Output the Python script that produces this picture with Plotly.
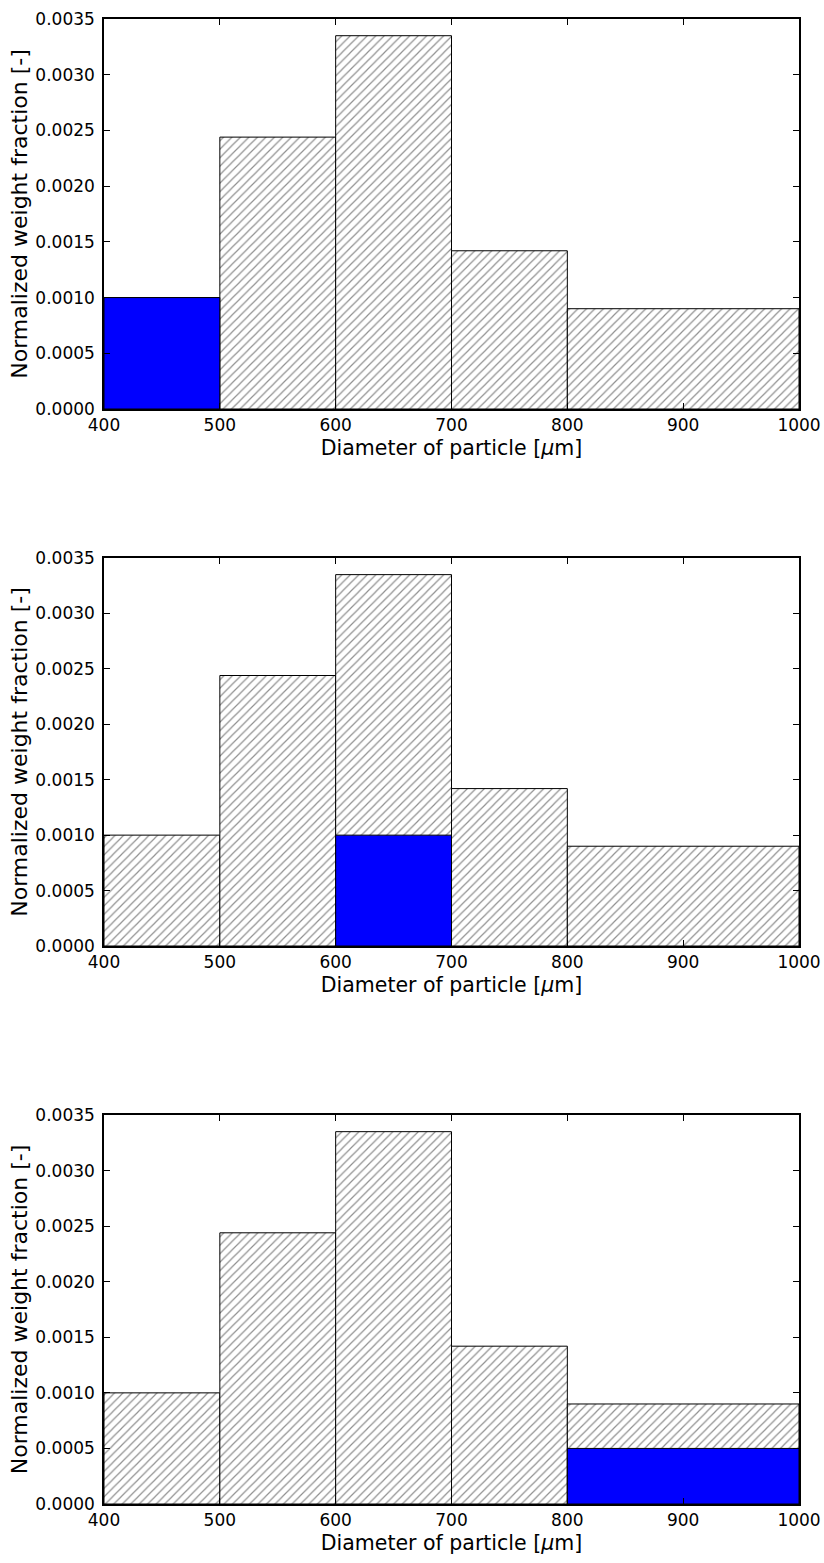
import plotly.graph_objects as go

# Particle size bins (µm) and normalized weight fraction per bin
bin_edges = [400, 500, 600, 700, 800, 1000]
weight_fraction = [0.0010, 0.00244, 0.00335, 0.00142, 0.0009]

# Highlighted bin in each panel and the height of the highlighted part
highlight_bin = [0, 2, 4]
highlight_value = [0.0010, 0.0010, 0.0005]

W, H = 824, 1563
x_dom = [104 / W, 799 / W]
panel_px = [(19, 409), (558, 946), (1115, 1504)]

centers = [(a + b) / 2 for a, b in zip(bin_edges[:-1], bin_edges[1:])]
widths = [b - a for a, b in zip(bin_edges[:-1], bin_edges[1:])]

fig = go.Figure()
layout = dict(
    width=W, height=H, margin=dict(l=0, r=0, t=0, b=0, autoexpand=False),
    plot_bgcolor="white", paper_bgcolor="white",
    barmode="overlay", showlegend=False,
    font=dict(family="DejaVu Sans", color="black"),
)

for i, (top, bottom) in enumerate(panel_px):
    n = "" if i == 0 else str(i + 1)
    xa, ya = "x" + n, "y" + n
    fig.add_trace(go.Bar(
        x=centers, y=weight_fraction, width=widths, xaxis=xa, yaxis=ya,
        marker=dict(color="white", line=dict(color="black", width=1),
                    pattern=dict(shape="/", size=6, solidity=0.2,
                                 fgcolor="#222222", bgcolor="white")),
        hoverinfo="skip",
    ))
    k = highlight_bin[i]
    fig.add_trace(go.Bar(
        x=[centers[k]], y=[highlight_value[i]], width=[widths[k]],
        xaxis=xa, yaxis=ya,
        marker=dict(color="#0000ff", line=dict(color="black", width=1)),
        hoverinfo="skip",
    ))
    axis_common = dict(
        showline=True, linecolor="black", linewidth=1.5, mirror="ticks",
        ticks="inside", ticklen=6, tickwidth=1, tickcolor="black",
        showgrid=False, zeroline=False, automargin=False,
        tickfont=dict(size=17, family="DejaVu Sans", color="black"),
    )
    layout["xaxis" + n] = dict(
        axis_common, domain=x_dom, range=[400, 1000], dtick=100, tick0=400,
        anchor=ya,
        title=dict(text="Diameter of particle [<i>μ</i>m]",
                   font=dict(size=20.5, family="DejaVu Sans"), standoff=6),
    )
    layout["yaxis" + n] = dict(
        axis_common, domain=[1 - bottom / H, 1 - top / H],
        range=[0, 0.0035], dtick=0.0005, tickformat=".4f", anchor=xa,
        ticklabelstandoff=4,
        title=dict(text="Normalized weight fraction [-]",
                   font=dict(size=22, family="DejaVu Sans"), standoff=2),
    )

fig.update_layout(**layout)
fig.write_html("out.html")
